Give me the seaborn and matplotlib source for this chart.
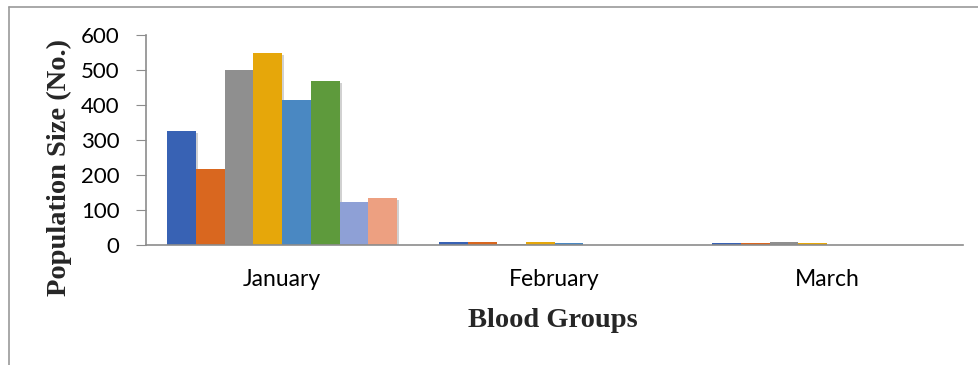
import matplotlib
matplotlib.use("Agg")
import matplotlib.pyplot as plt
import matplotlib.patheffects as pe
from matplotlib.lines import Line2D
import pandas as pd
import seaborn as sns

months = ["January", "February", "March"]
groups = ["A+", "A-", "B+", "B-", "AB+", "AB-", "O+", "O-"]
january = [325, 217, 500, 550, 415, 470, 123, 135]
february = [8, 8, 2, 7, 5, 0, 0, 0]
march = [5, 5, 9, 5, 0, 0, 0, 0]
colors = ["#3862B4", "#D9671F", "#8F8F8F", "#E6A70A", "#4A88C2",
          "#5E9A3C", "#8EA0D6", "#EDA081"]

rows = []
for month, vals in zip(months, [january, february, march]):
    for g, v in zip(groups, vals):
        rows.append({"Month": month, "Group": g, "Count": v})
df = pd.DataFrame(rows)

sns.set_theme(style="white")
plt.rcParams["font.family"] = ["Lato", "DejaVu Sans"]

fig = plt.figure(figsize=(9.79, 3.65), dpi=100)
ax = fig.add_axes([0.149, 0.329, 0.835, 0.575])

sns.barplot(data=df, x="Month", y="Count", hue="Group", order=months,
            hue_order=groups, palette=colors, width=0.845, gap=0,
            saturation=1, legend=False, ax=ax, edgecolor="none")

for p in ax.patches:
    p.set_path_effects([pe.SimplePatchShadow(offset=(1.5, -1.5),
                                             shadow_rgbFace="#000000",
                                             alpha=0.18),
                        pe.Normal()])

ax.set_ylim(0, 600)
ax.set_xlim(-0.5, 2.5)
ax.set_yticks(range(0, 601, 100))
ax.tick_params(axis="y", which="major", length=7, width=0.8,
               color="#8c8c8c", labelsize=16, labelcolor="#000000", pad=12,
               left=True)
ax.tick_params(axis="x", length=0, labelsize=16.5, labelcolor="#000000",
               pad=17)

for side in ["top", "right"]:
    ax.spines[side].set_visible(False)
for side in ["left", "bottom"]:
    ax.spines[side].set_color("#8c8c8c")
    ax.spines[side].set_linewidth(1.2)

ax.set_xlabel("")
ax.set_ylabel("")

serif = ["Liberation Serif", "DejaVu Serif"]
fig.text(0.061, 0.541, "Population Size (No.)", rotation=90, ha="center",
         va="center", fontsize=20.5, fontweight="bold", family=serif)
fig.text(0.565, 0.123, "Blood Groups", ha="center", va="center",
         fontsize=20.5, fontweight="bold", family=serif)

# outer frame lines
fig.add_artist(Line2D([0.0092, 1.0], [0.981, 0.981], color="#9a9a9a",
                      lw=1.2, transform=fig.transFigure))
fig.add_artist(Line2D([0.0092, 0.0092], [0.0, 0.981], color="#9a9a9a",
                      lw=1.2, transform=fig.transFigure))

fig.savefig("out.png", dpi=100, facecolor="white")
